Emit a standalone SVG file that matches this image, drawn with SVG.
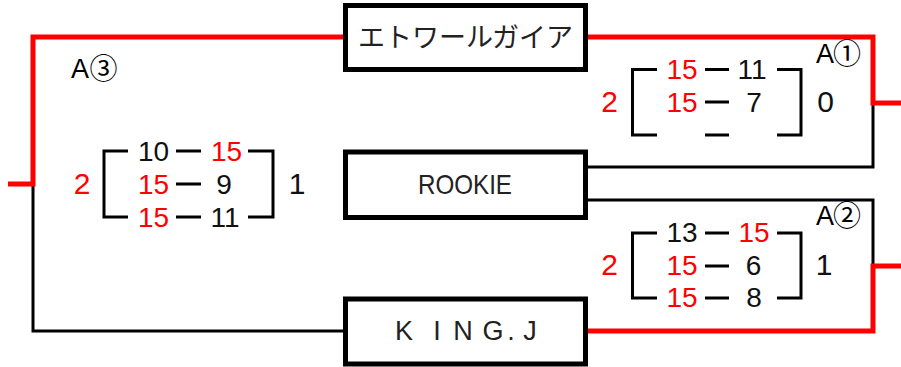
<svg xmlns="http://www.w3.org/2000/svg" width="901" height="367" viewBox="0 0 901 367">
<style>
.red{fill:none;stroke:#ff0000;stroke-width:5;stroke-linejoin:miter;stroke-linecap:butt}
.blk{fill:none;stroke:#000;stroke-width:3;stroke-linejoin:miter;stroke-linecap:butt}
.box{fill:#fff;stroke:#000;stroke-width:5}
.br{fill:none;stroke:#000;stroke-width:3}
.t{font-family:"Liberation Sans","Noto Sans CJK JP",sans-serif;font-size:28px;text-anchor:middle;fill:#111}
.r{fill:#ff0000}
.big{font-size:30px}
.lab{font-family:"Liberation Sans","Noto Sans CJK JP",sans-serif;font-size:27px;text-anchor:middle;fill:#000}
.circ{font-family:"Noto Sans CJK JP",sans-serif;font-size:28px;text-anchor:middle;fill:#000}
.jp{font-family:"Noto Sans CJK JP",sans-serif;font-size:27px;text-anchor:middle;fill:#222}
</style>
<rect width="901" height="367" fill="#fff"/>
<g id="connectors">
<path class="blk" d="M33,184 V331 H343"/>
<path class="blk" d="M588,167 H873 V103"/>
<path class="blk" d="M588,200 H873 V265"/>
<path class="red" d="M8,184 H33 V37 H343"/>
<path class="red" d="M588,37 H873 V103 H901"/>
<path class="red" d="M588,331 H873 V266 H901"/>
</g>
<g id="node-etoile">
<rect class="box" x="345.5" y="5.5" width="240" height="64"/>
<text class="jp" x="465.5" y="47">エトワールガイア</text>
</g>
<g id="node-rookie">
<rect class="box" x="345.5" y="152" width="240" height="65.5"/>
<text class="t" x="465" y="193.5" font-size="30" textLength="94" lengthAdjust="spacingAndGlyphs" style="fill:#222">ROOKIE</text>
</g>
<g id="node-kingj">
<rect class="box" x="345.5" y="299" width="240" height="65"/>
<text class="jp" y="340" x="404 437 463 493 511 530" font-size="29" style="font-family:'Liberation Sans',sans-serif">KING.J</text>
</g>
<g id="match-a3">
<text class="lab" x="80" y="78">A</text><text class="circ" x="103.5" y="79">③</text>
<path class="br" d="M128,151 H104 V217 H128"/>
<path class="br" d="M248,151 H273 V217 H248"/>
<path class="br" d="M176,151 H201 M176,184 H201 M176,217 H201"/>
<text class="t" x="153.5" y="160.5">10</text><text class="t r" x="226.5" y="160.5">15</text>
<text class="t r" x="153.5" y="193.5">15</text><text class="t" x="224" y="193.5">9</text>
<text class="t r" x="153.5" y="226.5">15</text><text class="t" x="225" y="226.5">11</text>
<text class="t r big" x="82" y="193.5">2</text>
<text class="t big" x="297" y="193.5">1</text>
</g>
<g id="match-a1">
<text class="lab" x="825" y="63">A</text><text class="circ" x="847" y="64">①</text>
<path class="br" d="M657,69.5 H632.5 V135 H657"/>
<path class="br" d="M777,69.5 H801 V135 H777"/>
<path class="br" d="M705,69.5 H729 M705,102 H729 M705,135 H729"/>
<text class="t r" x="682" y="79">15</text><text class="t" x="752" y="79">11</text>
<text class="t r" x="682" y="111.5">15</text><text class="t" x="754" y="111.5">7</text>
<text class="t r big" x="609.5" y="111.5">2</text>
<text class="t big" x="825.5" y="111.5">0</text>
</g>
<g id="match-a2">
<text class="lab" x="825" y="225">A</text><text class="circ" x="847" y="226">②</text>
<path class="br" d="M657,233 H632.5 V298 H657"/>
<path class="br" d="M777,233 H801 V298 H777"/>
<path class="br" d="M705,233 H729 M705,266 H729 M705,298 H729"/>
<text class="t" x="682" y="242">13</text><text class="t r" x="754" y="242">15</text>
<text class="t r" x="682" y="275">15</text><text class="t" x="753.5" y="275">6</text>
<text class="t r" x="682" y="307">15</text><text class="t" x="754" y="307">8</text>
<text class="t r big" x="609.5" y="275">2</text>
<text class="t big" x="824" y="275">1</text>
</g>
</svg>
